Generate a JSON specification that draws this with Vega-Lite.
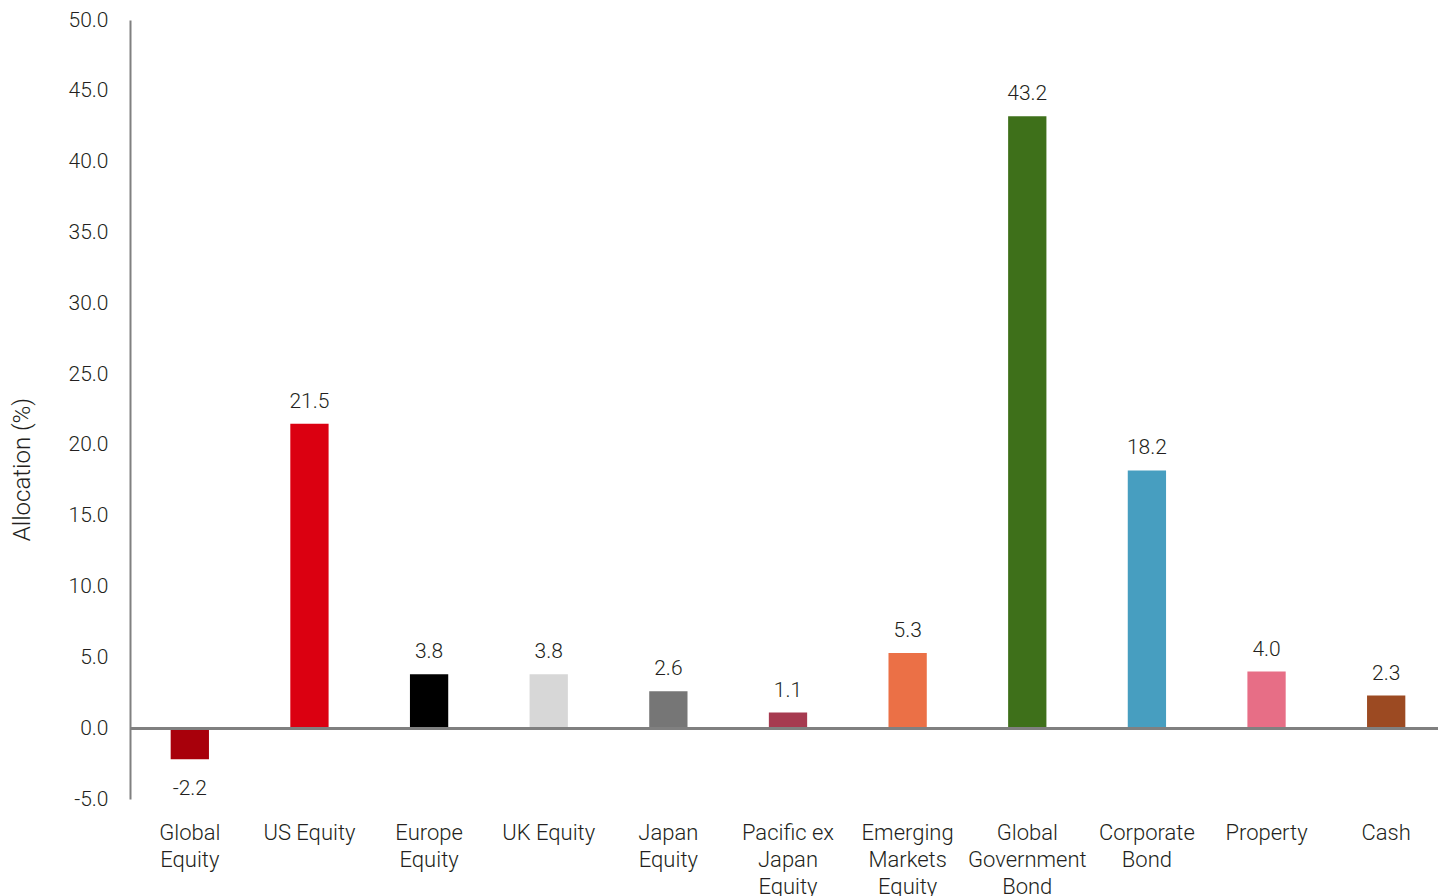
{
  "$schema": "https://vega.github.io/schema/vega-lite/v6.json",
  "autosize": {"type": "none"},
  "padding": {"left": 130, "top": 20, "right": 0, "bottom": 97},
  "width": 1308,
  "height": 779,
  "background": "white",
  "config": {
    "view": {"stroke": null},
    "font": "Roboto",
    "locale": {"number": {"decimal": ".", "thousands": ",", "grouping": [3], "currency": ["$", ""], "minus": "-"}},
    "axis": {"labelFont": "Roboto", "titleFont": "Roboto", "labelFontWeight": 300, "titleFontWeight": 300}
  },
  "data": {
    "values": [
      {"asset": "Global Equity", "value": -2.2, "color": "#A8000B"},
      {"asset": "US Equity", "value": 21.5, "color": "#DB0011"},
      {"asset": "Europe Equity", "value": 3.8, "color": "#000000"},
      {"asset": "UK Equity", "value": 3.8, "color": "#D7D7D7"},
      {"asset": "Japan Equity", "value": 2.6, "color": "#767676"},
      {"asset": "Pacific ex Japan Equity", "value": 1.1, "color": "#A63A50"},
      {"asset": "Emerging Markets Equity", "value": 5.3, "color": "#EB7046"},
      {"asset": "Global Government Bond", "value": 43.2, "color": "#3E701A"},
      {"asset": "Corporate Bond", "value": 18.2, "color": "#479EC0"},
      {"asset": "Property", "value": 4.0, "color": "#E76E86"},
      {"asset": "Cash", "value": 2.3, "color": "#9C4A22"}
    ]
  },
  "encoding": {
    "x": {
      "field": "asset",
      "type": "nominal",
      "sort": null,
      "scale": {"paddingInner": 0.68, "paddingOuter": 0.34, "range": [0, 1316]},
      "axis": {
        "title": null,
        "domain": false,
        "ticks": false,
        "labelAngle": 0,
        "labelFontSize": 22,
        "labelColor": "#231F20",
        "labelPadding": 23,
        "labelLineHeight": 27,
        "labelBaseline": "top",
        "labelExpr": "datum.value == 'Global Equity' ? ['Global','Equity'] : datum.value == 'Europe Equity' ? ['Europe','Equity'] : datum.value == 'Japan Equity' ? ['Japan','Equity'] : datum.value == 'Pacific ex Japan Equity' ? ['Pacific ex','Japan','Equity'] : datum.value == 'Emerging Markets Equity' ? ['Emerging','Markets','Equity'] : datum.value == 'Global Government Bond' ? ['Global','Government','Bond'] : datum.value == 'Corporate Bond' ? ['Corporate','Bond'] : datum.value"
      }
    }
  },
  "layer": [
    {
      "mark": {"type": "bar"},
      "encoding": {
        "y": {
          "field": "value",
          "type": "quantitative",
          "scale": {"domain": [-5, 50], "nice": false, "zero": false},
          "axis": {
            "title": "Allocation (%)",
            "titleFontSize": 24,
            "titleColor": "#231F20",
            "titleX": -108,
            "titleY": 449,
            "titleAngle": -90,
            "titleAlign": "center",
            "titleBaseline": "middle",
            "values": [-5, 0, 5, 10, 15, 20, 25, 30, 35, 40, 45, 50],
            "format": ".1f",
            "grid": false,
            "ticks": false,
            "domainColor": "#808080",
            "domainWidth": 2,
            "labelFontSize": 21,
            "labelColor": "#231F20",
            "labelPadding": 22
          }
        },
        "color": {"field": "color", "type": "nominal", "scale": null, "legend": null}
      }
    },
    {
      "mark": {"type": "rule", "color": "#808080", "strokeWidth": 2.5},
      "encoding": {"y": {"datum": 0, "type": "quantitative"}, "x": {"value": 0}, "x2": {"value": 1308}}
    },
    {
      "transform": [{"filter": "datum.value >= 0"}],
      "mark": {"type": "text", "baseline": "bottom", "dy": -12, "fontSize": 21, "fontWeight": 300, "color": "#231F20"},
      "encoding": {
        "y": {"field": "value", "type": "quantitative"},
        "text": {"field": "value", "type": "quantitative", "format": ".1f"}
      }
    },
    {
      "transform": [{"filter": "datum.value < 0"}],
      "mark": {"type": "text", "baseline": "top", "dy": 19, "fontSize": 21, "fontWeight": 300, "color": "#231F20"},
      "encoding": {
        "y": {"field": "value", "type": "quantitative"},
        "text": {"field": "value", "type": "quantitative", "format": ".1f"}
      }
    }
  ]
}
